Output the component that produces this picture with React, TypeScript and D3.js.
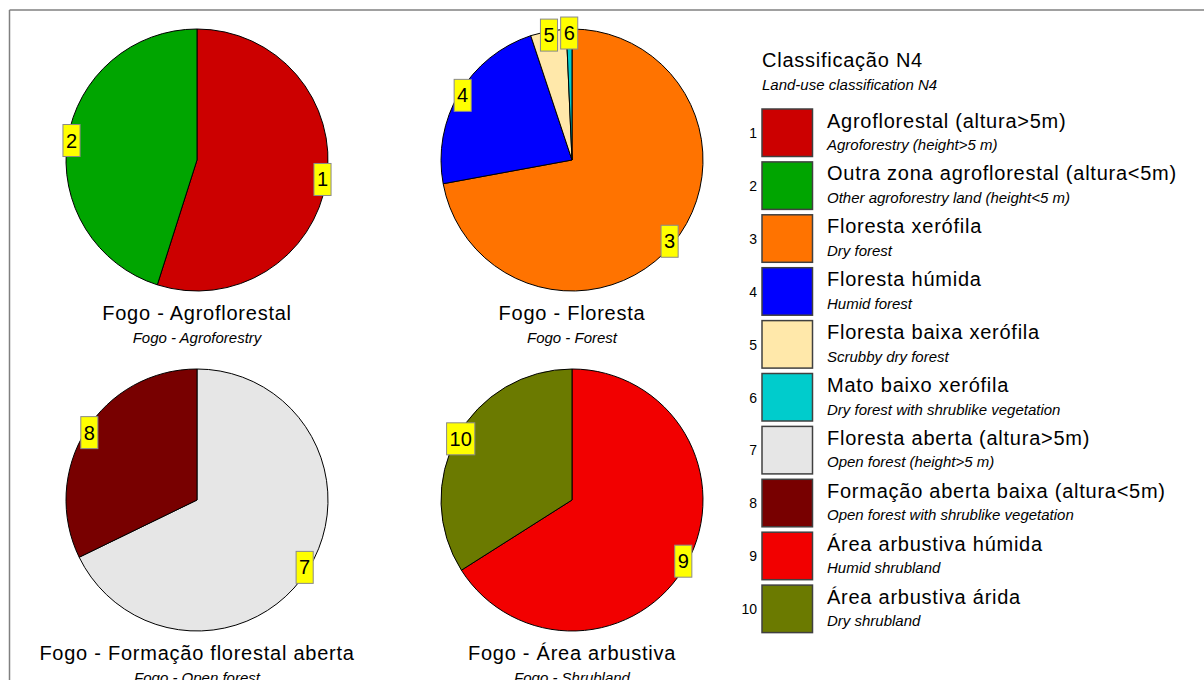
import React from "react";
import * as d3 from "d3";

// ---- data ----
const classIds = [1, 2, 3, 4, 5, 6, 7, 8, 9, 10];
const classNamesPt = [
  "Agroflorestal (altura>5m)",
  "Outra zona agroflorestal (altura<5m)",
  "Floresta xerófila",
  "Floresta húmida",
  "Floresta baixa xerófila",
  "Mato baixo xerófila",
  "Floresta aberta (altura>5m)",
  "Formação aberta baixa (altura<5m)",
  "Área arbustiva húmida",
  "Área arbustiva árida",
];
const classNamesEn = [
  "Agroforestry (height>5 m)",
  "Other agroforestry land (height<5 m)",
  "Dry forest",
  "Humid forest",
  "Scrubby dry forest",
  "Dry forest with shrublike vegetation",
  "Open forest (height>5 m)",
  "Open forest with shrublike vegetation",
  "Humid shrubland",
  "Dry shrubland",
];
const classColors = [
  "#CC0000", "#00A500", "#FF7300", "#0000FF", "#FFE8AA",
  "#00CCCC", "#E6E6E6", "#780000", "#F20000", "#6B7A00",
];

const pieTitlesPt = ["Fogo - Agroflorestal", "Fogo - Floresta", "Fogo - Formação florestal aberta", "Fogo - Área arbustiva"];
const pieTitlesEn = ["Fogo - Agroforestry", "Fogo - Forest", "Fogo - Open forest", "Fogo - Shrubland"];
const pieClasses = [[1, 2], [3, 4, 5, 6], [7, 8], [9, 10]];
const pieValues = [
  [54.9, 45.1],
  [72.1, 22.8, 4.4, 0.7],
  [67.8, 32.2],
  [66.0, 34.0],
];

const legendTitle = "Classificação N4";
const legendSubtitle = "Land-use classification N4";

// ---- layout ----
const FONT = "Arial, 'Liberation Sans', Helvetica, sans-serif";
const R = 131;
const centers = [
  [197, 160],
  [572, 160],
  [197, 500],
  [572, 500],
];

function Pie({ idx }: { idx: number }) {
  const [cx, cy] = centers[idx];
  const ids = pieClasses[idx];
  const vals = pieValues[idx];
  const data = ids.map((id, i) => ({ id, v: vals[i] }));
  const arcs = d3.pie<{ id: number; v: number }>().sort(null).value((d) => d.v)(data);
  const arc = d3.arc<d3.PieArcDatum<{ id: number; v: number }>>().innerRadius(0).outerRadius(R);
  const lblArc = d3.arc<d3.PieArcDatum<{ id: number; v: number }>>().innerRadius(R - 4).outerRadius(R - 4);
  return (
    <g>
      <g transform={`translate(${cx},${cy})`}>
        {arcs.map((a) => (
          <path key={a.data.id} d={arc(a) || ""} fill={classColors[a.data.id - 1]} stroke="#000" strokeWidth={1} />
        ))}
        {arcs.map((a) => {
          const ang = (a.startAngle + a.endAngle) / 2;
          const x = (R - 4) * Math.sin(ang);
          const y = -(R - 4) * Math.cos(ang);
          const txt = String(a.data.id);
          const w = txt.length * 11.1 + 6;
          return (
            <g key={"l" + a.data.id} transform={`translate(${x},${y})`}>
              <rect x={-w / 2} y={-16} width={w} height={32} fill="#FFFF00" stroke="#8a8a8a" strokeWidth={1} />
              <text x={0} y={7} textAnchor="middle" fontSize={20} fontFamily={FONT} fill="#000">{txt}</text>
            </g>
          );
        })}
      </g>
      <text x={cx} y={cy + 160} textAnchor="middle" fontSize={20} letterSpacing={0.75} fontFamily={FONT} fill="#000">
        {pieTitlesPt[idx]}
      </text>
      <text x={cx} y={cy + 183} textAnchor="middle" fontSize={15} fontStyle="italic" fontFamily={FONT} fill="#000">
        {pieTitlesEn[idx]}
      </text>
    </g>
  );
}

export default function App() {
  const legendY = d3.scaleLinear().domain([0, 1]).range([109, 161.9]);
  return (
    <svg width={1204} height={680} style={{ position: "absolute", left: 0, top: 0, background: "#fff" }}>
      <rect x={0} y={0} width={1204} height={680} fill="#fff" />
      <line x1={9.5} y1={10} x2={1204} y2={10} stroke="#808080" strokeWidth={1.5} />
      <line x1={9.5} y1={10} x2={9.5} y2={680} stroke="#808080" strokeWidth={1.5} />
      {[0, 1, 2, 3].map((i) => (
        <Pie key={i} idx={i} />
      ))}
      <text x={762} y={67} fontSize={20} letterSpacing={0.75} fontFamily={FONT} fill="#000">{legendTitle}</text>
      <text x={762} y={90} fontSize={15} fontStyle="italic" fontFamily={FONT} fill="#000">{legendSubtitle}</text>
      {classIds.map((id, i) => {
        const y = legendY(i);
        return (
          <g key={id}>
            <text x={757} y={y + 29} textAnchor="end" fontSize={14} fontFamily={FONT} fill="#000">{id}</text>
            <rect x={762} y={y} width={50.5} height={47.5} fill={classColors[i]} stroke="#404040" strokeWidth={1.5} />
            <text x={827} y={y + 18.5} fontSize={20} letterSpacing={0.75} fontFamily={FONT} fill="#000">{classNamesPt[i]}</text>
            <text x={827} y={y + 41} fontSize={15} fontStyle="italic" fontFamily={FONT} fill="#000">{classNamesEn[i]}</text>
          </g>
        );
      })}
    </svg>
  );
}
